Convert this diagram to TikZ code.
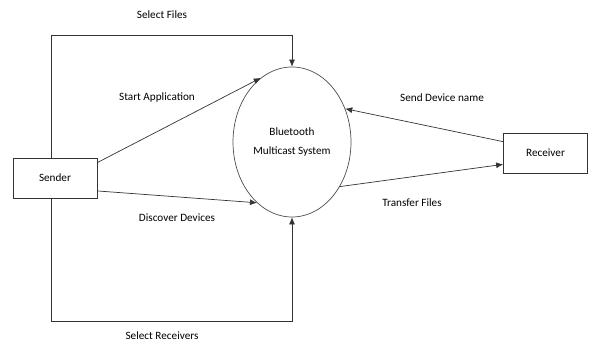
\documentclass[tikz,border=0pt]{standalone}
\usepackage{fontspec}
\setmainfont{Carlito}
\usetikzlibrary{arrows,arrows.meta,positioning,shapes.geometric}

\begin{document}
\begin{tikzpicture}[x=1pt,y=-1pt,font=\fontsize{11.2}{13}\selectfont,
    flow/.style={draw=black!80,line width=0.7pt,-{Latex[length=7pt,width=6pt]}},
    entity/.style={draw=black!80,line width=0.7pt,rectangle,minimum width=84pt,minimum height=40pt,inner sep=0pt},
    process/.style={draw=black!70,line width=0.7pt,ellipse,minimum width=118pt,minimum height=150pt,align=center,inner sep=0pt}]
      \useasboundingbox (0,0) rectangle (592,348);
      \node[entity] (sender) at (55,178) {Sender};
      \node[entity] (receiver) at (545.5,153) {Receiver};
      \node[process] (sys) at (292,142) {Bluetooth\\[6pt]Multicast System};
      \coordinate (tl) at (51,35);
      \coordinate (bl) at (51,321);

      \draw[flow] (tl |- sender.north) -- (tl) -| (sys.north);
      \draw[flow] (sender.20) -- (sys.116);
      \draw[flow] (sender.-17) -- (sys.-120);
      \draw[flow] (bl |- sender.south) -- (bl) -| (sys.south);
      \draw[flow] (receiver.165) -- (sys.32);
      \draw[flow] (sys.-43) -- (receiver.195);

      \draw (162,15) node (A) {Select Files};
      \draw (157,98) node (B) {Start Application};
      \draw (177,218) node (C) {Discover Devices};
      \draw (162,336) node (D) {Select Receivers};
      \draw (442,98) node (E) {Send Device name};
      \draw (412,203) node (F) {Transfer Files};
\end{tikzpicture}
\end{document}
